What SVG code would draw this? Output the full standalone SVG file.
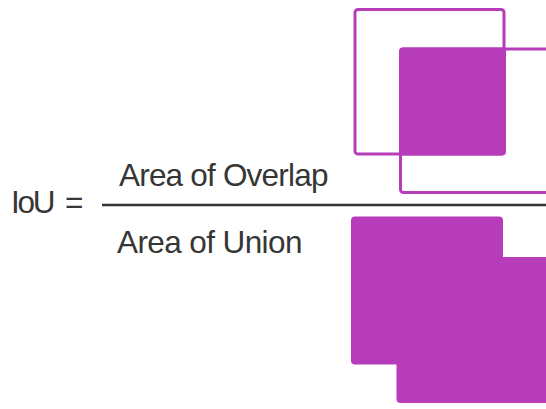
<svg xmlns="http://www.w3.org/2000/svg" width="546" height="409" viewBox="0 0 546 409">
<style>
.t{font-family:"Liberation Sans",Arial,sans-serif;font-size:31.5px;fill:#363636;}
.o{fill:none;stroke:#b63cb9;stroke-width:3;}
.f{fill:#b63cb9;}
</style>
<rect width="546" height="409" fill="#ffffff"/>
<g id="formula">
<text class="t" x="11" y="213" letter-spacing="-2.2">IoU</text>
<text class="t" x="65" y="213">=</text>
<text class="t" x="119" y="186" letter-spacing="-0.8">Area of Overlap</text>
<text class="t" x="117" y="253" letter-spacing="-0.6">Area of Union</text>
<line x1="102" y1="205" x2="546" y2="205" stroke="#333333" stroke-width="2.5"/>
</g>
<g id="overlap">
<rect class="o" x="355" y="9.5" width="149" height="144.5" rx="3"/>
<rect class="o" x="400.5" y="49" width="160" height="143.5" rx="3"/>
<rect class="f" x="399" y="47.5" width="107" height="108" rx="4"/>
</g>
<g id="union">
<rect class="f" x="351" y="216.5" width="152" height="148" rx="4"/>
<rect class="f" x="396.5" y="257" width="160" height="146" rx="4"/>
</g>
</svg>
